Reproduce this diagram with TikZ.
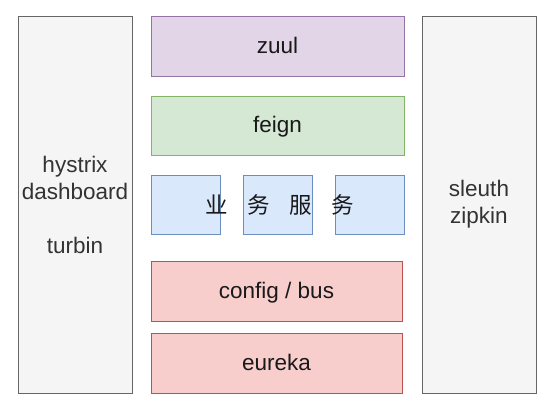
\documentclass[tikz,border=0pt]{standalone}
\usepackage{fontspec}
\setmainfont{Liberation Sans}
\newfontfamily\cjk{Noto Sans CJK SC}
\usepackage{xcolor}

\definecolor{grayfill}{HTML}{F5F5F5}
\definecolor{graydraw}{HTML}{666666}
\definecolor{graytext}{HTML}{333333}
\definecolor{purplefill}{HTML}{E1D5E7}
\definecolor{purpledraw}{HTML}{9673A6}
\definecolor{greenfill}{HTML}{D5E8D4}
\definecolor{greendraw}{HTML}{82B366}
\definecolor{bluefill}{HTML}{DAE8FC}
\definecolor{bluedraw}{HTML}{6C8EBF}
\definecolor{redfill}{HTML}{F8CECC}
\definecolor{reddraw}{HTML}{B85450}

\tikzset{
  layer/.style={draw,line width=0.9pt,inner sep=0pt,align=center,
    font=\fontsize{22.5}{27}\selectfont,text=black!90},
  oneline/.style={text height=19.5pt,text depth=5pt},
  graybox/.style={layer,fill=grayfill,draw=graydraw,text=graytext,minimum width=114pt,minimum height=377pt},
  purplebox/.style={layer,oneline,fill=purplefill,draw=purpledraw,minimum width=253pt,minimum height=60pt},
  greenbox/.style={layer,oneline,fill=greenfill,draw=greendraw,minimum width=253pt,minimum height=59pt},
  bluebox/.style={layer,fill=bluefill,draw=bluedraw,minimum width=69pt,minimum height=59pt},
  redbox/.style={layer,oneline,fill=redfill,draw=reddraw,minimum width=251pt,minimum height=60pt}
}

\begin{document}
\begin{tikzpicture}[x=1pt,y=-1pt]
  \useasboundingbox (0,0) rectangle (560,408);
  % side columns
  \node[graybox] (monitor) at (75,204.5) {hystrix\\dashboard\\[27pt]turbin};
  \node[graybox] (trace) at (479,204.5) {sleuth\\zipkin};
  % middle stack
  \node[purplebox] (zuul) at (277.5,46) {zuul};
  \node[greenbox] (feign) at (277.5,125.5) {feign};
  \node[bluebox] (svca) at (185.5,204.5) {};
  \node[bluebox] (svcb) at (277.5,204.5) {};
  \node[bluebox] (svcc) at (369.5,204.5) {};
  \node[font=\cjk\fontsize{22.5}{27}\selectfont,text=black!90,inner sep=0pt] (svctext) at (280,205)
    {业\hspace{19.5pt}务\hspace{19.5pt}服\hspace{19.5pt}务};
  \node[redbox] (config) at (276.5,291) {config / bus};
  \node[redbox] (eureka) at (276.5,363.5) {eureka};
\end{tikzpicture}
\end{document}
